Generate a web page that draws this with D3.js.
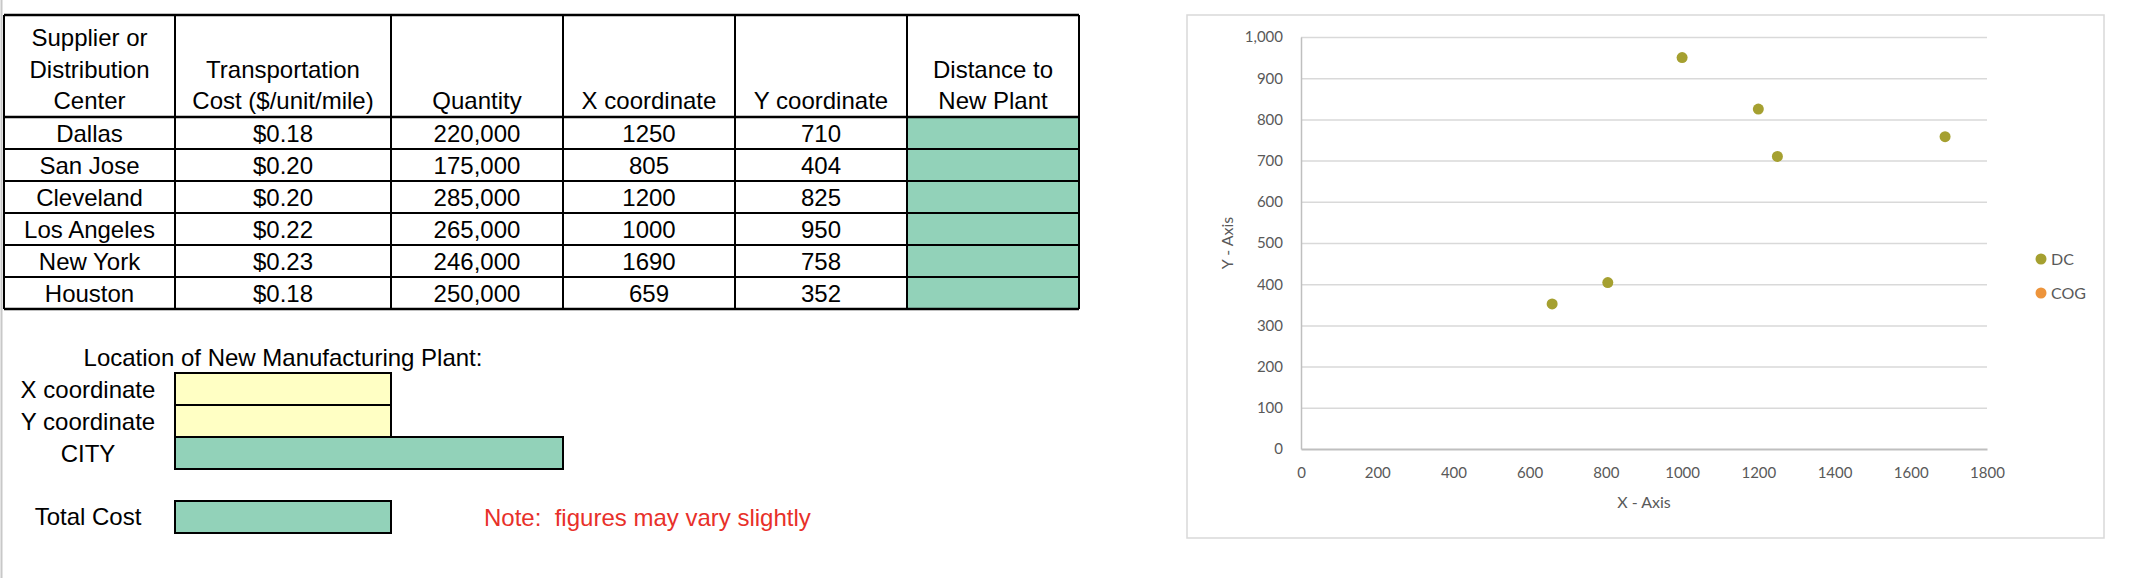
<!DOCTYPE html>
<html>
<head>
<meta charset="utf-8">
<script src="https://cdn.jsdelivr.net/npm/d3@7"></script>
<style>
  body { margin: 0; background: #fff; }
  svg { display: block; }
  .cell text { font-family: "Liberation Sans", Arial, sans-serif; font-size: 24px; fill: #000; }
  .chart text { font-family: Lato, "Open Sans", sans-serif; fill: #595959; }
</style>
</head>
<body>
<div id="sheet"></div>
<script>
// table data
const headers = [
  ["Supplier or", "Distribution", "Center"],
  ["Transportation", "Cost ($/unit/mile)"],
  ["Quantity"],
  ["X coordinate"],
  ["Y coordinate"],
  ["Distance to", "New Plant"]
];
const cities = ["Dallas", "San Jose", "Cleveland", "Los Angeles", "New York", "Houston"];
const costs = [0.18, 0.20, 0.20, 0.22, 0.23, 0.18];
const quantities = [220000, 175000, 285000, 265000, 246000, 250000];
const xCoords = [1250, 805, 1200, 1000, 1690, 659];
const yCoords = [710, 404, 825, 950, 758, 352];
const plantLabels = ["X coordinate", "Y coordinate", "CITY"];

// chart data
const seriesNames = ["DC", "COG"];
const cogX = [];
const cogY = [];
const xTicks = [0, 200, 400, 600, 800, 1000, 1200, 1400, 1600, 1800];
const yTicks = [0, 100, 200, 300, 400, 500, 600, 700, 800, 900, 1000];

const W = 2142, H = 578;
const GREEN = "#92d2b9", YELLOW = "#ffffc4";

const svg = d3.select("#sheet").append("svg")
  .attr("width", W)
  .attr("height", H);

// spreadsheet edge
svg.append("line")
  .attr("x1", 1.5).attr("x2", 1.5).attr("y1", 0).attr("y2", H)
  .attr("stroke", "#c8c8c8").attr("stroke-width", 2);

// ---- table ----
const colEdges = [4, 175, 391, 563, 735, 907, 1079];
const headTop = 15, headBottom = 117, rowH = 32;
const fmtCost = d3.format("$.2f");
const fmtQty = d3.format(",");

const rows = cities.map((c, i) => [c, fmtCost(costs[i]), fmtQty(quantities[i]), xCoords[i], yCoords[i], ""]);

const table = svg.append("g").attr("class", "cell");

// green distance column
table.append("rect")
  .attr("x", colEdges[5]).attr("y", headBottom)
  .attr("width", colEdges[6] - colEdges[5]).attr("height", rowH * rows.length)
  .attr("fill", GREEN);

// header text, bottom aligned
headers.forEach((lines, j) => {
  const cx = (colEdges[j] + colEdges[j + 1]) / 2;
  lines.forEach((t, k) => {
    table.append("text")
      .attr("x", cx)
      .attr("y", 109 - (lines.length - 1 - k) * 31.5)
      .attr("text-anchor", "middle")
      .text(t);
  });
});

rows.forEach((r, i) => {
  r.forEach((v, j) => {
    table.append("text")
      .attr("x", (colEdges[j] + colEdges[j + 1]) / 2)
      .attr("y", headBottom + rowH * (i + 1) - 7)
      .attr("text-anchor", "middle")
      .text(v);
  });
});

// grid lines
const tableBottom = headBottom + rowH * rows.length;
const hLines = [headTop, headBottom].concat(d3.range(1, rows.length + 1).map(i => headBottom + rowH * i));
table.selectAll("line.h").data(hLines).enter().append("line")
  .attr("x1", colEdges[0]).attr("x2", colEdges[6])
  .attr("y1", d => d).attr("y2", d => d)
  .attr("stroke", "#000").attr("stroke-width", d => (d === headTop || d === headBottom || d === tableBottom) ? 2.5 : 2);
table.selectAll("line.v").data(colEdges).enter().append("line")
  .attr("x1", d => d).attr("x2", d => d)
  .attr("y1", headTop).attr("y2", tableBottom)
  .attr("stroke", "#000").attr("stroke-width", 2);

// ---- plant location block ----
const block = svg.append("g").attr("class", "cell");
block.append("text")
  .attr("x", 283).attr("y", 366).attr("text-anchor", "middle")
  .text("Location of New Manufacturing Plant:");

const boxes = [
  { y: 373, w: colEdges[2] - colEdges[1], fill: YELLOW },
  { y: 405, w: colEdges[2] - colEdges[1], fill: YELLOW },
  { y: 437, w: colEdges[3] - colEdges[1], fill: GREEN }
];
boxes.forEach((b, i) => {
  block.append("rect")
    .attr("x", colEdges[1]).attr("y", b.y)
    .attr("width", b.w).attr("height", 32)
    .attr("fill", b.fill).attr("stroke", "#000").attr("stroke-width", 2);
  block.append("text")
    .attr("x", 88).attr("y", b.y + 25).attr("text-anchor", "middle")
    .text(plantLabels[i]);
});

block.append("rect")
  .attr("x", colEdges[1]).attr("y", 501)
  .attr("width", colEdges[2] - colEdges[1]).attr("height", 32)
  .attr("fill", GREEN).attr("stroke", "#000").attr("stroke-width", 2);
block.append("text")
  .attr("x", 88).attr("y", 525).attr("text-anchor", "middle")
  .text("Total Cost");
block.append("text")
  .attr("x", 484).attr("y", 526)
  .style("fill", "#e8302a")
  .text("Note:\u00a0 figures may vary slightly");

// ---- scatter chart ----
const chart = svg.append("g").attr("class", "chart");
chart.append("rect")
  .attr("x", 1187).attr("y", 15)
  .attr("width", 2104 - 1187).attr("height", 538 - 15)
  .attr("fill", "#fff").attr("stroke", "#d9d9d9").attr("stroke-width", 1.5);

const x = d3.scaleLinear().domain([0, 1800]).range([1301, 1987]);
const y = d3.scaleLinear().domain([0, 1000]).range([449, 37]);

// gridlines
chart.append("g")
  .attr("transform", `translate(${x(0)},0)`)
  .call(d3.axisLeft(y).tickValues(yTicks.filter(d => d > 0)).tickSize(-(x(1800) - x(0))).tickFormat(""))
  .call(g => g.select(".domain").remove())
  .call(g => g.selectAll("line").attr("stroke", "#d9d9d9").attr("stroke-width", 1.5));

// y axis
chart.append("g")
  .attr("transform", `translate(${x(0)},0)`)
  .call(d3.axisLeft(y).tickValues(yTicks).tickSize(0).tickPadding(18).tickFormat(d3.format(",")))
  .call(g => g.select(".domain").attr("stroke", "#bfbfbf").attr("stroke-width", 1.5))
  .call(g => g.selectAll("text").attr("font-family", "Lato, 'Open Sans', sans-serif").attr("font-size", 15).attr("fill", "#595959"));

// x axis
chart.append("g")
  .attr("transform", `translate(0,${y(0)})`)
  .call(d3.axisBottom(x).tickValues(xTicks).tickSize(0).tickPadding(18).tickFormat(d3.format("d")))
  .call(g => g.select(".domain").attr("stroke", "#bfbfbf").attr("stroke-width", 2))
  .call(g => g.selectAll("text").attr("font-family", "Lato, 'Open Sans', sans-serif").attr("font-size", 15).attr("fill", "#595959"));

chart.append("text")
  .attr("x", (x(0) + x(1800)) / 2).attr("y", 508)
  .attr("text-anchor", "middle").attr("font-size", 16)
  .text("X - Axis");
chart.append("text")
  .attr("transform", `translate(1233,${(y(0) + y(1000)) / 2}) rotate(-90)`)
  .attr("text-anchor", "middle").attr("font-size", 16)
  .text("Y - Axis");

const color = d3.scaleOrdinal().domain(seriesNames).range(["#a5a030", "#ed943b"]);

chart.append("g").selectAll("circle")
  .data(xCoords.map((d, i) => [d, yCoords[i]]))
  .enter().append("circle")
  .attr("cx", d => x(d[0])).attr("cy", d => y(d[1]))
  .attr("r", 5.5).attr("fill", color("DC"));

chart.append("g").selectAll("circle")
  .data(cogX.map((d, i) => [d, cogY[i]]))
  .enter().append("circle")
  .attr("cx", d => x(d[0])).attr("cy", d => y(d[1]))
  .attr("r", 5.5).attr("fill", color("COG"));

// legend
const legend = chart.append("g").attr("transform", "translate(2041,259)");
seriesNames.forEach((s, i) => {
  const g = legend.append("g").attr("transform", `translate(0,${i * 34})`);
  g.append("circle").attr("r", 5.5).attr("fill", color(s));
  g.append("text").attr("x", 10).attr("y", 6).attr("font-size", 16).text(s);
});
</script>
</body>
</html>
